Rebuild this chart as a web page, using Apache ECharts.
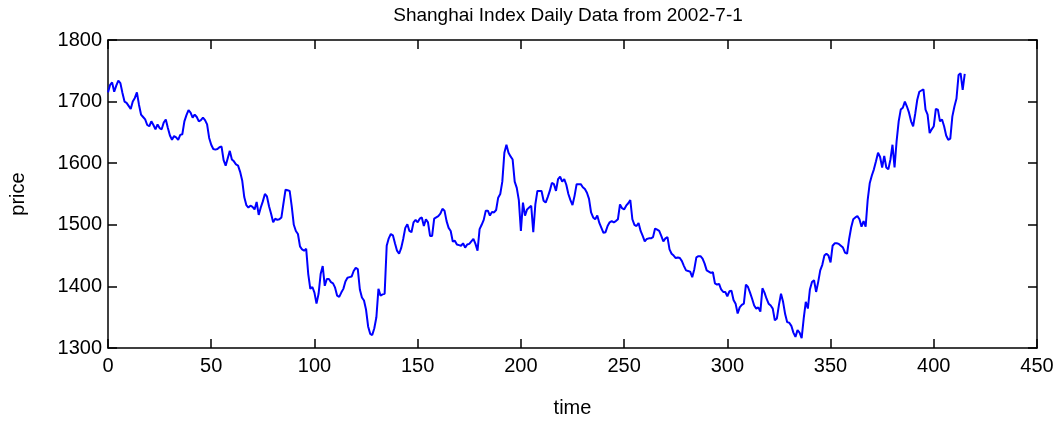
<!DOCTYPE html>
<html>
<head>
<meta charset="utf-8">
<script src="https://cdn.jsdelivr.net/npm/echarts@6/dist/echarts.min.js"></script>
<style>html,body{margin:0;padding:0;background:#fff}#c{width:1058px;height:423px}</style>
</head>
<body>
<div id="c"></div>
<script>
const titleText = "Shanghai Index Daily Data from 2002-7-1";
const xName = "time";
const yName = "price";
const xTicks = [0, 50, 100, 150, 200, 250, 300, 350, 400, 450];
const yTicks = [1300, 1400, 1500, 1600, 1700, 1800];
const price = [
1715,1727,1731,1716,1726,1734,1730,1714,1700,1698,
1693,1688,1700,1706,1715,1695,1679,1675,1671,1662,
1660,1668,1662,1655,1663,1657,1655,1666,1671,1657,
1645,1638,1644,1642,1638,1646,1647,1668,1678,1686,
1682,1674,1679,1675,1668,1670,1674,1670,1663,1641,
1630,1623,1622,1623,1626,1627,1605,1596,1608,1620,
1606,1603,1598,1596,1586,1572,1545,1532,1528,1531,
1529,1525,1537,1516,1528,1538,1550,1546,1530,1518,
1504,1510,1508,1509,1512,1535,1557,1556,1555,1530,
1500,1490,1485,1465,1460,1458,1461,1420,1396,1399,
1390,1372,1388,1420,1433,1401,1412,1412,1407,1405,
1398,1385,1383,1390,1396,1408,1414,1415,1416,1425,
1430,1428,1395,1382,1377,1362,1335,1323,1321,1332,
1350,1396,1385,1387,1388,1466,1478,1485,1483,1470,
1458,1453,1462,1477,1495,1501,1490,1488,1504,1508,
1504,1510,1512,1498,1509,1504,1482,1482,1510,1512,
1514,1518,1526,1523,1506,1495,1490,1473,1474,1468,
1467,1466,1470,1463,1468,1469,1473,1477,1469,1458,
1493,1500,1508,1523,1523,1515,1521,1520,1524,1544,
1550,1570,1617,1630,1617,1611,1606,1570,1560,1540,
1490,1536,1515,1525,1528,1531,1488,1533,1555,1555,
1555,1539,1536,1545,1555,1568,1566,1555,1574,1578,
1570,1574,1565,1550,1540,1532,1547,1566,1566,1566,
1561,1558,1552,1542,1520,1512,1509,1515,1503,1495,
1487,1488,1498,1504,1506,1504,1506,1509,1533,1527,
1525,1531,1535,1540,1509,1500,1498,1503,1490,1482,
1473,1477,1478,1478,1480,1494,1492,1490,1482,1473,
1478,1480,1460,1453,1450,1446,1447,1446,1441,1433,
1426,1425,1424,1415,1428,1447,1449,1449,1445,1437,
1426,1424,1422,1423,1405,1403,1404,1395,1391,1391,
1384,1392,1393,1378,1372,1356,1366,1370,1372,1403,
1399,1390,1380,1369,1364,1366,1359,1397,1390,1380,
1372,1369,1364,1345,1348,1370,1388,1375,1355,1342,
1341,1336,1325,1318,1329,1325,1316,1348,1375,1364,
1395,1407,1410,1391,1407,1426,1435,1450,1453,1450,
1439,1466,1470,1470,1469,1466,1463,1455,1453,1477,
1496,1509,1512,1514,1509,1497,1506,1497,1541,1568,
1580,1590,1603,1617,1610,1593,1612,1593,1590,1606,
1630,1593,1636,1668,1687,1690,1700,1692,1682,1668,
1660,1680,1703,1716,1718,1720,1687,1679,1649,1655,
1660,1688,1687,1668,1671,1660,1645,1638,1640,1676,
1692,1705,1743,1746,1719,1745
];

const FONT = '"Liberation Sans", Arial, Helvetica, sans-serif';
const chart = echarts.init(document.getElementById('c'), null, {renderer: 'canvas'});
const xMin = xTicks[0], xMax = xTicks[xTicks.length - 1], xStep = xTicks[1] - xTicks[0];
const yMin = yTicks[0], yMax = yTicks[yTicks.length - 1], yStep = yTicks[1] - yTicks[0];
const axisLine = {show: true, onZero: false, lineStyle: {color: '#000', width: 1.5}};
const tickIn = {show: true, inside: true, length: 9, lineStyle: {color: '#000', width: 1.5}};
const lbl = {color: '#000', fontSize: 20, fontFamily: FONT, formatter: v => String(v)};
chart.setOption({
  animation: false,
  backgroundColor: '#fff',
  title: {
    text: titleText, left: 563, top: 1, textAlign: 'center',
    textStyle: {color: '#000', fontSize: 19, fontWeight: 'normal', fontFamily: FONT}
  },
  grid: {left: 107, right: 21, top: 40, bottom: 74, containLabel: false},
  xAxis: [
    {type: 'value', min: xMin, max: xMax, interval: xStep, position: 'bottom',
     axisLine, axisTick: tickIn, splitLine: {show: false},
     axisLabel: Object.assign({margin: 8}, lbl),
     name: xName, nameLocation: 'middle', nameGap: 50,
     nameTextStyle: {color: '#000', fontSize: 20, fontFamily: FONT}},
    {type: 'value', min: xMin, max: xMax, interval: xStep, position: 'top',
     axisLine, axisTick: tickIn, axisLabel: {show: false}, splitLine: {show: false}}
  ],
  yAxis: [
    {type: 'value', min: yMin, max: yMax, interval: yStep, position: 'left',
     axisLine, axisTick: tickIn, splitLine: {show: false},
     axisLabel: Object.assign({margin: 6}, lbl),
     name: yName, nameLocation: 'middle', nameGap: 80, nameRotate: 90,
     nameTextStyle: {color: '#000', fontSize: 20, fontFamily: FONT}},
    {type: 'value', min: yMin, max: yMax, interval: yStep, position: 'right',
     axisLine, axisTick: tickIn, axisLabel: {show: false}, splitLine: {show: false}}
  ],
  series: [{
    type: 'line', showSymbol: false, symbol: 'none',
    xAxisIndex: 0, yAxisIndex: 0,
    data: price.map((v, i) => [i, v]),
    lineStyle: {color: '#0000ff', width: 2},
    itemStyle: {color: '#0000ff'}
  }]
});
</script>
</body>
</html>
